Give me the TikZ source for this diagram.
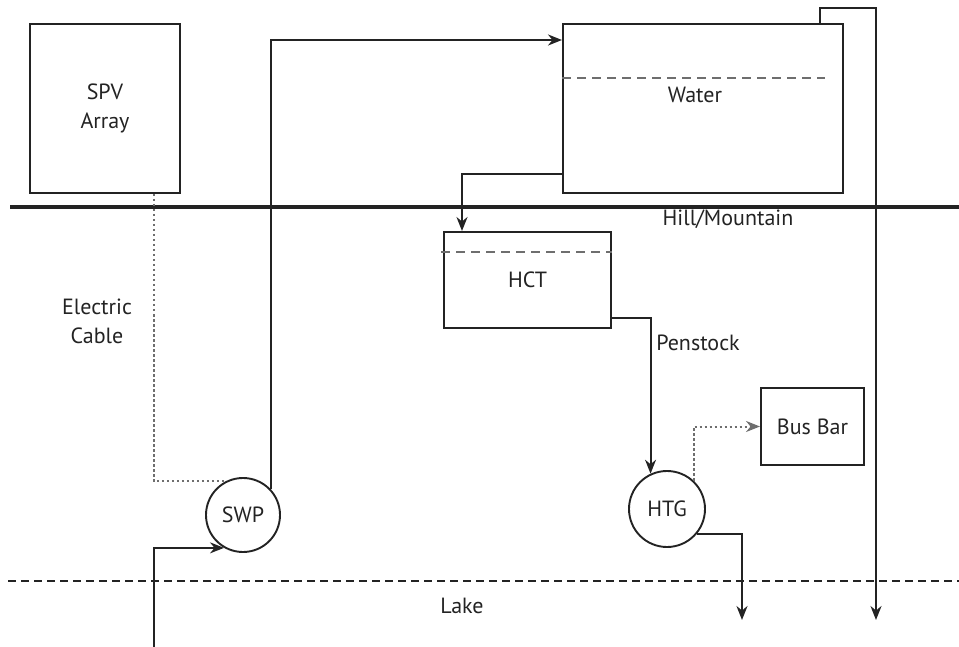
\documentclass[tikz,border=0pt]{standalone}
\usepackage{fontspec}
\setmainfont{PT Sans}
\usetikzlibrary{positioning,arrows.meta,calc}
\usepackage{xcolor}
\definecolor{linegray}{RGB}{35,35,35}
\definecolor{levelgray}{RGB}{110,110,110}

\begin{document}
\begin{tikzpicture}[x=1pt, y=-1pt,
    every node/.style={font=\fontsize{22}{29}\selectfont, text=linegray},
    block/.style={draw=linegray, line width=2pt, minimum width=#1, inner sep=0pt, align=center},
    unit/.style={draw=linegray, line width=1.9pt, circle, minimum size=#1, inner sep=0pt},
    flow/.style={-{Stealth[length=14pt, width=11pt]}, line width=2pt, draw=linegray},
    cable/.style={line width=2pt, draw=levelgray, dash pattern=on 2.5pt off 2.5pt},
    level/.style={draw=levelgray, line width=2.2pt, dash pattern=on 9pt off 6pt},
    lab/.style={inner sep=1pt}
]
    \useasboundingbox (0,0) rectangle (959,647);

    % Ground lines
    \draw[line width=3.4pt, draw=linegray] (10,207) -- (959,207);
    \draw[line width=2pt, draw=linegray, dash pattern=on 8pt off 5pt] (8,581) -- (959,581);

    % Blocks
    \node[block=150pt, minimum height=169pt] (spv)  at (105,108.5)   {SPV\\Array};
    \node[block=280pt, minimum height=169pt] (tank) at (703,108.5)   {};
    \node[block=167pt, minimum height=96pt]  (hct)  at (527.5,280)   {HCT};
    \node[block=103pt, minimum height=77pt]  (bus)  at (812.5,426.5) {Bus Bar};
    \node[unit=74pt] (swp) at (243,515) {SWP};
    \node[unit=76pt] (htg) at (667,509) {HTG};

    % Water levels
    \draw[level] (tank.north west |- 0,78) -- (825,78);
    \draw[level] (441,252) -- (hct.east |- 0,252);

    % Labels
    \node[lab] (water)    at (695,95)  {Water};
    \node[lab] (hill)     at (728,219) {Hill/Mountain};
    \node[lab] (pen)      at (698,343) {Penstock};
    \node[lab, align=center] (cab) at (97,321) {Electric\\Cable};
    \node[lab] (lake)     at (462,606) {Lake};

    % Free ends
    \coordinate (inlet)  at (154,647);
    \coordinate (spill)  at (876,620);
    \coordinate (tail)   at (742,620);

    % Connectors
    \draw[flow] (inlet) |- (swp.-120);
    \draw[cable] ($(spv.south)+(49,0)$) |- (swp.117);
    \draw[flow] (swp.43) |- ($(tank.north west)+(0,17)$);
    \draw[flow] ($(tank.south west)+(0,-20)$) -| ($(hct.north west)+(19,0)$);
    \draw[flow] ($(tank.north east)+(-24,0)$) |- ($(spill)+(0,-612)$) -- (spill);
    \draw[flow] ($(hct.south east)+(0,-11)$) -| (htg.115);
    \draw[cable, -{Stealth[length=14pt, width=11pt]}] (htg.46) |- (bus.west);
    \draw[flow] (htg.-40) -| (tail);
\end{tikzpicture}
\end{document}
